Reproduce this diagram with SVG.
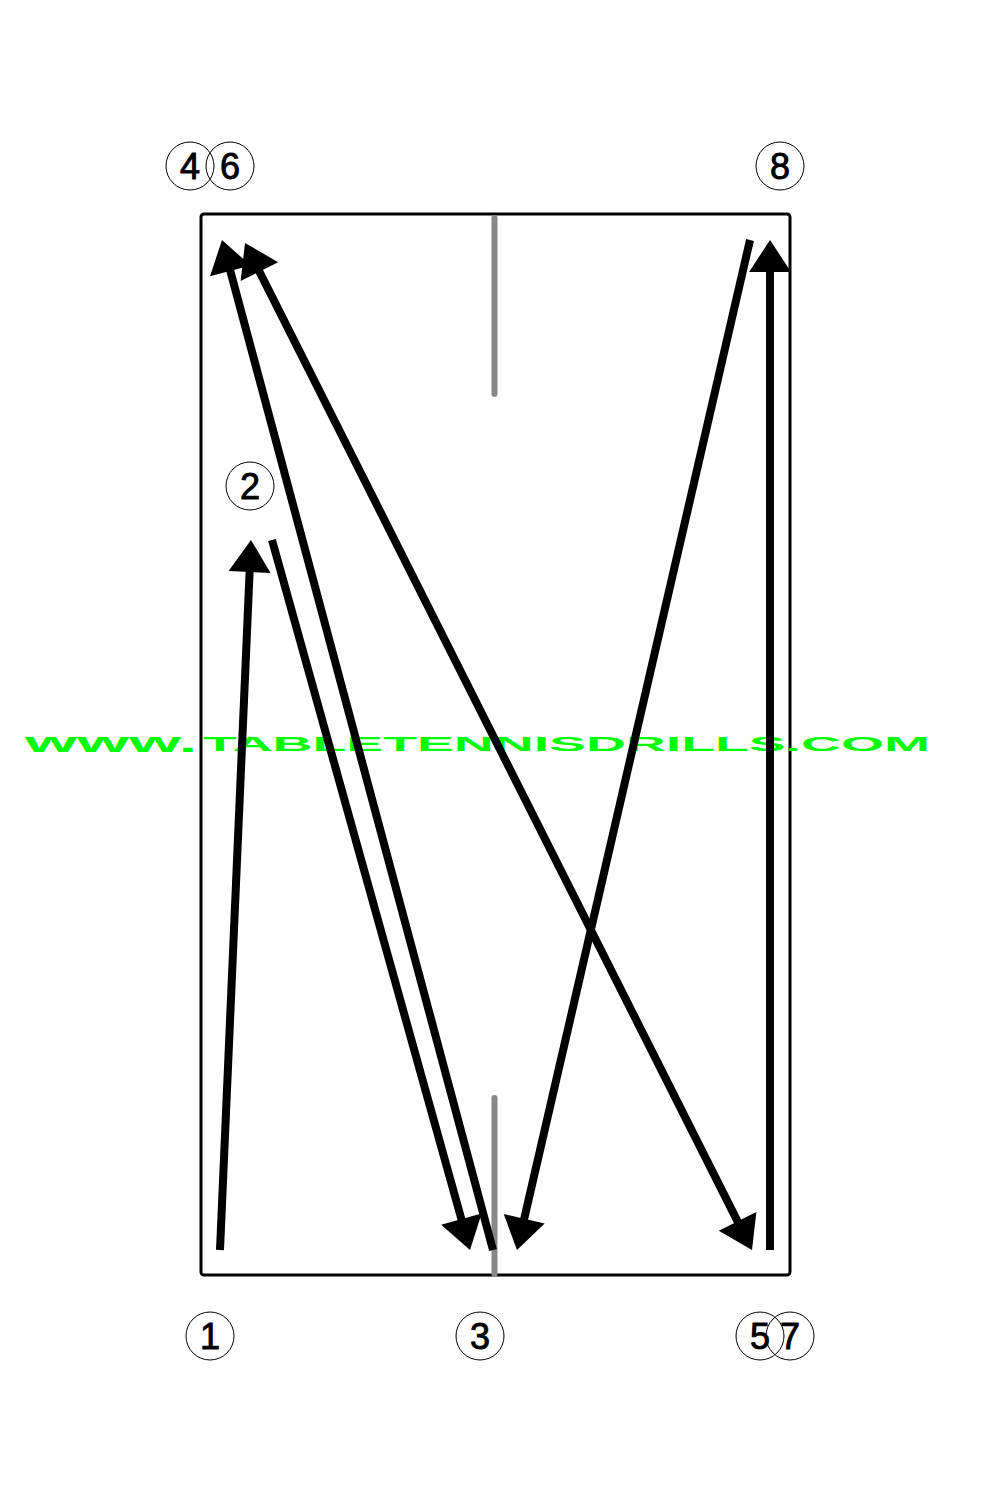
<svg xmlns="http://www.w3.org/2000/svg" width="1000" height="1500" viewBox="0 0 1000 1500">
<style>
.lbl{font-family:"Liberation Sans",Arial,sans-serif;font-size:36px;fill:#000;stroke:#000;stroke-width:0.9;text-anchor:middle}
.ring{fill:none;stroke:#000;stroke-width:1}
.shot{stroke:#000;stroke-width:8;fill:none;stroke-linecap:butt}
.wm{font-family:"Liberation Sans",Arial,sans-serif;font-weight:bold;fill:#00ff00}
</style>
<defs>
<marker id="ah" markerUnits="userSpaceOnUse" markerWidth="70" markerHeight="70" viewBox="-45 -35 70 70" refX="-8" refY="0" orient="auto-start-reverse" overflow="visible">
<path d="M0,0 L-32,-21 L-32,21 Z" fill="#000"/>
</marker>
</defs>
<rect width="1000" height="1500" fill="#fff"/>
<g id="table">
<rect x="201" y="214" width="589" height="1061" rx="3" fill="none" stroke="#000" stroke-width="3"/>
<line x1="494.5" y1="218" x2="494.5" y2="394" stroke="#888" stroke-width="6" stroke-linecap="round"/>
<line x1="494.5" y1="1098" x2="494.5" y2="1274" stroke="#888" stroke-width="6" stroke-linecap="round"/>
</g>
<g id="watermark">
<text class="wm" x="25" y="752" font-size="28" textLength="172" lengthAdjust="spacingAndGlyphs">www.</text>
<text class="wm" x="203" y="751" font-size="20" textLength="727" lengthAdjust="spacingAndGlyphs">TABLETENNISDRILLS.COM</text>
</g>
<g id="connectors">
<line class="shot" x1="220" y1="1250" x2="250.65" y2="548" marker-end="url(#ah)"/>
<line class="shot" x1="272" y1="540" x2="467.85" y2="1242.3" marker-end="url(#ah)"/>
<line class="shot" x1="493" y1="1250" x2="224.07" y2="247.73" marker-end="url(#ah)"/>
<line class="shot" x1="748.4" y1="1242.85" x2="248.6" y2="250.15" marker-start="url(#ah)" marker-end="url(#ah)"/>
<line class="shot" x1="750" y1="240" x2="518.8" y2="1242.2" marker-end="url(#ah)"/>
<line class="shot" x1="770" y1="1250" x2="770" y2="248" marker-end="url(#ah)"/>
</g>
<g id="n4"><circle class="ring" cx="190" cy="166" r="24"/><text class="lbl" x="190" y="179">4</text></g>
<g id="n6"><circle class="ring" cx="230" cy="166" r="24"/><text class="lbl" x="230" y="179">6</text></g>
<g id="n8"><circle class="ring" cx="780" cy="166" r="24"/><text class="lbl" x="780" y="179">8</text></g>
<g id="n2"><circle class="ring" cx="250" cy="486" r="24"/><text class="lbl" x="250" y="499">2</text></g>
<g id="n1"><circle class="ring" cx="210" cy="1336" r="24"/><text class="lbl" x="210" y="1349">1</text></g>
<g id="n3"><circle class="ring" cx="480" cy="1336" r="24"/><text class="lbl" x="480" y="1349">3</text></g>
<g id="n5"><circle class="ring" cx="760" cy="1336" r="24"/><text class="lbl" x="760" y="1349">5</text></g>
<g id="n7"><circle class="ring" cx="790" cy="1336" r="24"/><text class="lbl" x="790" y="1349">7</text></g>
</svg>
